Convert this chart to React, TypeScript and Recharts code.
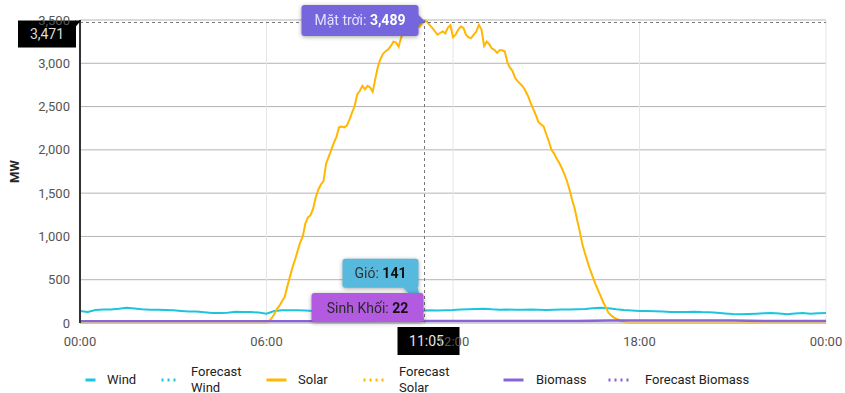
import React from 'react';
import {
  LineChart,
  Line,
  XAxis,
  YAxis,
  CartesianGrid,
  Legend,
  ReferenceLine,
  ReferenceDot,
} from 'recharts';

// x tick positions in minutes after midnight
const xTicks = [0, 360, 720, 1080, 1440];
const yTicks = [0, 500, 1000, 1500, 2000, 2500, 3000, 3500];

// wind, 15 minute steps from 00:00 to 24:00
const windStep = 15;
const windValues = [
  138, 128, 150, 155,
  157, 165, 177, 168,
  158, 154, 154, 150,
  146, 140, 134, 134,
  125, 115, 115, 118,
  131, 128, 126, 120,
  108, 138, 146, 146,
  146, 145, 140, 145,
  150, 148, 142, 140,
  145, 148, 150, 145,
  140, 142, 148, 145,
  141, 146, 145, 148,
  150, 155, 158, 162,
  165, 158, 154, 155,
  152, 154, 155, 152,
  150, 154, 156, 155,
  158, 162, 170, 177,
  170, 158, 150, 145,
  138, 140, 136, 132,
  128, 126, 128, 130,
  126, 124, 118, 110,
  104, 100, 104, 108,
  112, 115, 110, 100,
  110, 115, 106, 112,
  116,
];

// solar, 5 minute steps from 06:00 to 17:40, zero overnight
const solarStart = 360;
const solarStep = 5;
const solarValues = [
  0, 20, 55, 100, 160, 200, 250, 300, 420, 530, 640, 730,
  830, 930, 1000, 1150, 1220, 1245, 1320, 1450, 1540, 1600, 1640, 1840,
  1920, 2000, 2080, 2150, 2260, 2270, 2260, 2280, 2345, 2430, 2500, 2640,
  2680, 2740, 2700, 2740, 2720, 2670, 2820, 2960, 3050, 3110, 3140, 3160,
  3200, 3250, 3240, 3190, 3300, 3350, 3370, 3400, 3380, 3420, 3440, 3420,
  3460, 3489, 3480, 3440, 3410, 3370, 3330, 3350, 3367, 3345, 3410, 3440,
  3300, 3330, 3387, 3425, 3410, 3330, 3300, 3290, 3330, 3367, 3444, 3390,
  3200, 3250, 3220, 3170, 3155, 3120, 3150, 3150, 3136, 3010, 2950, 2910,
  2830, 2790, 2760, 2730, 2680, 2620, 2540, 2470, 2400, 2320, 2295, 2270,
  2180, 2100, 2000, 1960, 1900, 1850, 1790, 1720, 1640, 1540, 1420, 1320,
  1180, 1050, 900, 800, 700, 610, 531, 450, 380, 310, 240, 180,
  120, 90, 65, 50, 35, 20, 10, 5, 0,
];

// biomass, hourly
const biomassStep = 60;
const biomassValues = [
  20, 20, 20, 20, 20, 20, 21, 21, 21, 21, 22, 22,
  22, 22, 22, 23, 24, 28, 30, 30, 30, 28, 24, 22, 22,
];

// hovered position
const cursorTime = 665;
const cursorValue = 3471;

const windData = windValues.map((v, i) => ({ t: i * windStep, v }));
const solarData = [
  { t: 0, v: 0 },
  ...solarValues.map((v, i) => ({ t: solarStart + i * solarStep, v })),
  { t: 1440, v: 0 },
];
const biomassData = biomassValues.map((v, i) => ({ t: i * biomassStep, v }));

const nearest = (data: { t: number; v: number }[], t: number) =>
  data.reduce((a, b) => (Math.abs(b.t - t) < Math.abs(a.t - t) ? b : a));

const solarHover = nearest(solarData, cursorTime);
const windHover = nearest(windData, cursorTime);
const biomassHover = nearest(biomassData, cursorTime);

const fmtTime = (m: number) => {
  const h = Math.floor(m / 60) % 24;
  const mm = m % 60;
  return `${String(h).padStart(2, '0')}:${String(mm).padStart(2, '0')}`;
};
const fmtNum = (n: number) => n.toLocaleString('en-US');

const FONT = 'Roboto, "Noto Sans", sans-serif';

const series = [
  { name: 'Wind', color: '#1cc5de', dotted: false, iconW: 13, gap: 10, width: 76, textW: 0 },
  { name: 'Forecast Wind', color: '#1cc5de', dotted: true, iconW: 17, gap: 14, width: 105, textW: 56 },
  { name: 'Solar', color: '#ffb703', dotted: false, iconW: 23, gap: 10, width: 97, textW: 0 },
  { name: 'Forecast Solar', color: '#ffb703', dotted: true, iconW: 23, gap: 14, width: 140, textW: 56 },
  { name: 'Biomass', color: '#8a63d8', dotted: false, iconW: 23, gap: 11, width: 105, textW: 0 },
  { name: 'Forecast Biomass', color: '#8a63d8', dotted: true, iconW: 23, gap: 15, width: 200, textW: 0 },
];

const LegendContent = () => (
  <div style={{ display: 'flex', alignItems: 'center', height: 40, paddingLeft: 84, paddingTop: 13, boxSizing: 'border-box', fontFamily: FONT, fontSize: 13, color: '#222' }}>
    {series.map((s) => (
      <div key={s.name} style={{ display: 'flex', alignItems: 'center', width: s.width, flexShrink: 0 }}>
        <svg width={s.iconW} height={6} style={{ marginRight: s.gap, flexShrink: 0 }}>
          <line
            x1={1.5}
            x2={s.iconW - 1.5}
            y1={3}
            y2={3}
            stroke={s.color}
            strokeWidth={3}
            strokeDasharray={s.dotted ? '2 4' : undefined}
          />
        </svg>
        <span style={{ lineHeight: '16px', maxWidth: s.textW || undefined }}>{s.name}</span>
      </div>
    ))}
  </div>
);

const shadow = { filter: 'drop-shadow(0px 1px 2px rgba(0,0,0,0.35))' };

const SolarTip = ({ cx, cy }: any) => {
  const w = 117;
  const h = 31;
  const x = cx - 6 - w;
  const y = cy - 16;
  return (
    <g style={shadow}>
      <rect x={x} y={y} width={w} height={h} rx={3} fill="#7566de" />
      <polygon points={`${cx - 8},${cy - 8} ${cx},${cy} ${cx - 8},${cy + 6}`} fill="#7566de" />
      <text x={x + w / 2} y={y + h / 2 + 5} textAnchor="middle" fontSize={14} fontFamily={FONT}>
        <tspan fill="#e4e1ff">Mặt trời: </tspan>
        <tspan fill="#ffffff" fontWeight={700}>{fmtNum(solarHover.v)}</tspan>
      </text>
    </g>
  );
};

const WindTip = ({ cx, cy }: any) => {
  const w = 76;
  const h = 29;
  const x = cx - 82;
  const y = cy - 52;
  return (
    <g style={shadow}>
      <polygon points={`${cx - 22},${y + h - 1} ${cx - 7},${y + h - 1} ${cx - 2},${cy - 3}`} fill="#58b9de" />
      <rect x={x} y={y} width={w} height={h} rx={3} fill="#58b9de" />
      <text x={x + w / 2} y={y + h / 2 + 5} textAnchor="middle" fontSize={14} fontFamily={FONT}>
        <tspan fill="#333">Gió: </tspan>
        <tspan fill="#111" fontWeight={700}>{fmtNum(windHover.v)}</tspan>
      </text>
    </g>
  );
};

const BiomassTip = ({ cx, cy }: any) => {
  const w = 112;
  const h = 29;
  const x = cx - 113;
  const y = cy - 28;
  return (
    <g style={shadow}>
      <polygon points={`${cx - 3},${cy - 12} ${cx},${cy} ${cx - 14},${cy + 1}`} fill="#b25ae0" />
      <rect x={x} y={y} width={w} height={h} rx={3} fill="#b25ae0" />
      <text x={x + w / 2} y={y + h / 2 + 5} textAnchor="middle" fontSize={14} fontFamily={FONT}>
        <tspan fill="#2a2a2a">Sinh Khối: </tspan>
        <tspan fill="#111" fontWeight={700}>{fmtNum(biomassHover.v)}</tspan>
      </text>
    </g>
  );
};

const TimeTip = ({ cx, cy }: any) => {
  const w = 62;
  const h = 28;
  const x = cx - 27;
  return (
    <g>
      <rect x={x} y={cy + 4} width={w} height={h} fill="#000" />
      <text x={x + 29} y={cy + 4 + h / 2 + 5} textAnchor="middle" fontSize={14} fontFamily={FONT} fill="#e8e8e8">
        {fmtTime(cursorTime)}
      </text>
    </g>
  );
};

const ValueTip = ({ cx, cy }: any) => {
  const w = 58;
  const h = 27;
  const x = cx - 62;
  const y = cy - 2;
  return (
    <g>
      <polygon points={`${cx - 5},${y} ${cx + 1},${y} ${cx - 5},${y + 7}`} fill="#000" />
      <rect x={x} y={y} width={w} height={h} fill="#000" />
      <text x={x + w / 2} y={y + h / 2 + 5} textAnchor="middle" fontSize={14} fontFamily={FONT} fill="#dcdcdc">
        {fmtNum(cursorValue)}
      </text>
    </g>
  );
};

export default function App() {
  return (
    <div style={{ position: 'absolute', left: 0, top: 0, width: 845, height: 393, background: '#fff' }}>
      <LineChart width={845} height={393} margin={{ top: 20, right: 19, left: 0, bottom: 0 }}>
        <CartesianGrid vertical={false} stroke="#b4b4b4" horizontalValues={yTicks} />
        <CartesianGrid horizontal={false} stroke="#e6e6e6" verticalValues={xTicks} />
        <XAxis
          dataKey="t"
          type="number"
          domain={[0, 1440]}
          ticks={xTicks}
          tickFormatter={fmtTime}
          tickLine={false}
          axisLine={{ stroke: '#d0d0d0' }}
          tickMargin={8}
          height={30}
          tick={{ fill: '#555', fontSize: 13, fontFamily: FONT }}
        />
        <YAxis
          type="number"
          domain={[0, 3500]}
          ticks={yTicks}
          tickFormatter={fmtNum}
          tickLine={false}
          axisLine={{ stroke: '#333', strokeWidth: 2 }}
          tickMargin={4}
          width={80}
          tick={{ fill: '#555', fontSize: 13, fontFamily: FONT }}
          label={{ value: 'MW', angle: -90, position: 'insideLeft', offset: 14, style: { fontWeight: 700, fontSize: 13, fill: '#222', fontFamily: FONT, textAnchor: 'middle' } }}
        />
        <Legend verticalAlign="bottom" content={<LegendContent />} wrapperStyle={{ left: 0, width: 845 }} />
        <Line data={windData} dataKey="v" name="Wind" type="linear" stroke="#1cc5de" strokeWidth={2} dot={false} isAnimationActive={false} />
        <Line data={[]} dataKey="v" name="Forecast Wind" stroke="#1cc5de" strokeDasharray="2 4" dot={false} isAnimationActive={false} />
        <Line data={solarData} dataKey="v" name="Solar" type="linear" stroke="#ffb703" strokeWidth={2} dot={false} isAnimationActive={false} />
        <Line data={[]} dataKey="v" name="Forecast Solar" stroke="#ffb703" strokeDasharray="2 4" dot={false} isAnimationActive={false} />
        <Line data={biomassData} dataKey="v" name="Biomass" type="linear" stroke="#8a63d8" strokeWidth={2.5} dot={false} isAnimationActive={false} />
        <Line data={[]} dataKey="v" name="Forecast Biomass" stroke="#8a63d8" strokeDasharray="2 4" dot={false} isAnimationActive={false} />
        <ReferenceLine x={cursorTime} stroke="#777" strokeDasharray="3 3" ifOverflow="visible" />
        <ReferenceLine y={cursorValue} stroke="#777" strokeDasharray="3 3" ifOverflow="visible" />
        <ReferenceDot x={cursorTime} y={solarHover.v} ifOverflow="visible" shape={SolarTip} />
        <ReferenceDot x={cursorTime} y={windHover.v} ifOverflow="visible" shape={WindTip} />
        <ReferenceDot x={cursorTime} y={biomassHover.v} ifOverflow="visible" shape={BiomassTip} />
        <ReferenceDot x={cursorTime} y={0} ifOverflow="visible" shape={TimeTip} />
        <ReferenceDot x={0} y={cursorValue} ifOverflow="visible" shape={ValueTip} />
      </LineChart>
    </div>
  );
}
